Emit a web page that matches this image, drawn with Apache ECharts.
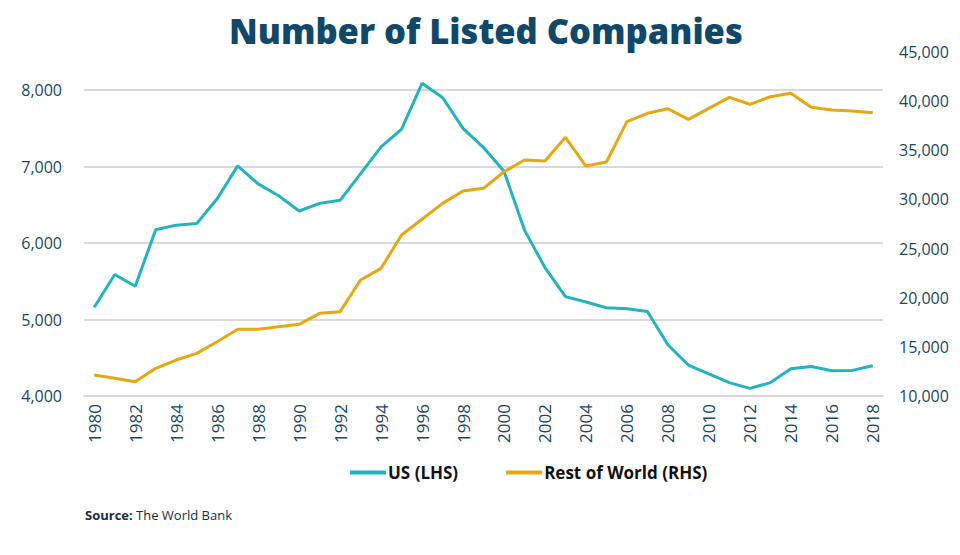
<!DOCTYPE html>
<html>
<head>
<meta charset="utf-8">
<title>Number of Listed Companies</title>
<script src="https://cdn.jsdelivr.net/npm/echarts@6/dist/echarts.min.js"></script>
<style>
  html, body { margin: 0; padding: 0; background: #fff; }
  #chart { width: 960px; height: 555px; }
</style>
</head>
<body>
<div id="chart"></div>
<script>
var years = [];
for (var y = 1980; y <= 2018; y++) years.push(String(y));

// US listed companies (left axis)
var usValues = [
  5160, 5590, 5435, 6175, 6235, 6255, 6580, 7010, 6775, 6620,
  6420, 6520, 6560, 6910, 7260, 7490, 8090, 7905, 7500, 7250,
  6940, 6170, 5680, 5300, 5230, 5155, 5140, 5105, 4670, 4405,
  4290, 4175, 4100, 4175, 4355, 4385, 4330, 4335, 4395
];

// Rest of world listed companies (right axis)
var rowValues = [
  12140, 11800, 11460, 12820, 13660, 14340, 15520, 16790, 16790, 17050,
  17290, 18410, 18580, 21800, 22990, 26380, 27980, 29600, 30860, 31130,
  32820, 34010, 33910, 36320, 33400, 33810, 37910, 38760, 39230, 38150,
  39270, 40390, 39680, 40450, 40800, 39370, 39100, 39000, 38820
];

var ink = '#1b4863';
var grid = '#d9d9d9';
var teal = '#22b4be';
var gold = '#e5a812';

var chart = echarts.init(document.getElementById('chart'), null, { renderer: 'svg' });
chart.setOption({
  animation: false,
  title: {
    text: 'Number of Listed Companies',
    left: 224,
    top: 8,
    textStyle: { color: '#0f4868', fontSize: 34.5, fontWeight: 800, fontFamily: 'Open Sans' }
  },
  legend: {
    bottom: 69,
    left: 345,
    itemGap: 48,
    itemWidth: 36,
    itemHeight: 4,
    icon: 'rect',
    textStyle: { color: '#111', fontSize: 17, fontWeight: 'bold', fontFamily: 'Open Sans', padding: [0, 0, 0, -3] },
    data: ['US (LHS)', 'Rest of World (RHS)']
  },
  grid: { top: 52, bottom: 159, left: 84, right: 77 },
  xAxis: {
    type: 'category',
    data: years,
    boundaryGap: true,
    axisLine: { lineStyle: { color: grid, width: 2 } },
    axisTick: { show: false },
    axisLabel: {
      interval: 1,
      rotate: 90,
      color: ink,
      fontSize: 17,
      fontFamily: 'Open Sans',
      margin: 8
    }
  },
  yAxis: [
    {
      type: 'value',
      min: 4000,
      max: 8500,
      interval: 1000,
      axisLine: { show: false },
      axisTick: { show: false },
      splitLine: { lineStyle: { color: [grid, grid, grid, grid, grid, 'rgba(0,0,0,0)'], width: 2 } },
      axisLabel: {
        showMaxLabel: false,
        color: ink,
        fontSize: 16,
        fontFamily: 'Open Sans',
        margin: 22,
        formatter: function (v) { return v.toLocaleString('en-US'); }
      }
    },
    {
      type: 'value',
      min: 10000,
      max: 45000,
      interval: 5000,
      position: 'right',
      axisLine: { show: false },
      axisTick: { show: false },
      splitLine: { show: false },
      axisLabel: {
        color: ink,
        fontSize: 16,
        fontFamily: 'Open Sans',
        margin: 16,
        formatter: function (v) { return v.toLocaleString('en-US'); }
      }
    }
  ],
  series: [
    {
      name: 'US (LHS)',
      type: 'line',
      yAxisIndex: 0,
      data: usValues,
      symbol: 'none',
      lineStyle: { color: teal, width: 3 },
      itemStyle: { color: teal }
    },
    {
      name: 'Rest of World (RHS)',
      type: 'line',
      yAxisIndex: 1,
      data: rowValues,
      symbol: 'none',
      lineStyle: { color: gold, width: 3 },
      itemStyle: { color: gold }
    }
  ],
  graphic: [
    {
      type: 'text',
      left: 85,
      top: 508,
      style: {
        rich: {
          b: { fontWeight: 'bold', fontSize: 13, fill: '#1a2f3d', fontFamily: 'Open Sans' },
          n: { fontSize: 13, fill: '#1a2f3d', fontFamily: 'Open Sans' }
        },
        text: '{b|Source:} {n|The World Bank}'
      }
    }
  ]
});
window.addEventListener('resize', function () { chart.resize(); });
</script>
</body>
</html>
